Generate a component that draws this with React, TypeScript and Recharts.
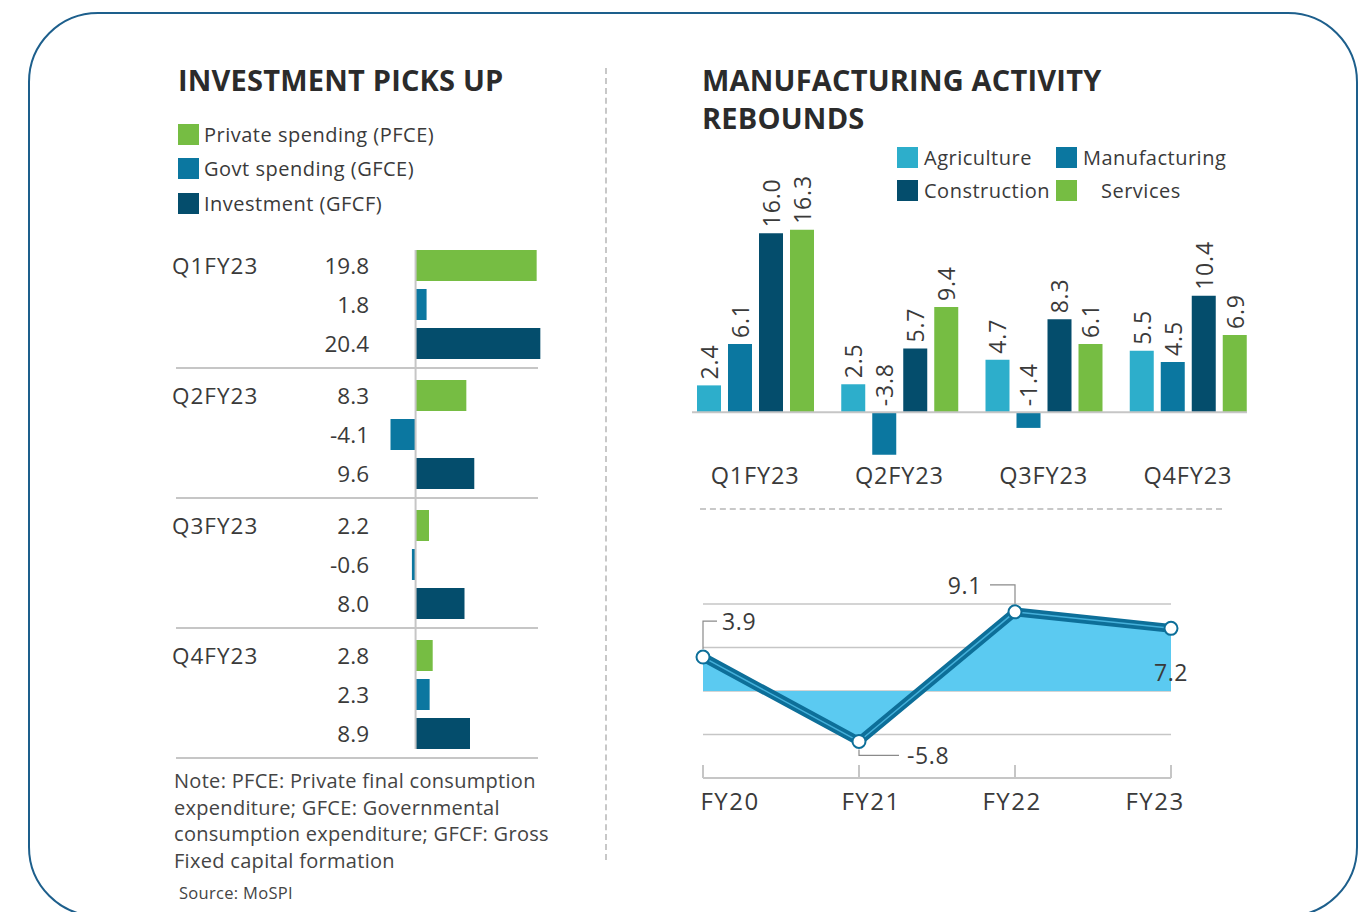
import React from 'react'
import {
  BarChart, Bar, XAxis, YAxis, Cell, ReferenceLine, LabelList,
  ComposedChart, Area, Line, CartesianGrid,
} from 'recharts'

const FONT = '"Open Sans", "Noto Sans", sans-serif'
const TEXT = '#3a3a3a'
const GREEN = '#76bd43'
const TEAL = '#0b77a0'
const NAVY = '#044d6c'
const SKY = '#2daecb'
const AREA_FILL = '#5bcaf1'
const LINE_BLUE = '#0d6f99'
const GRID = '#c6c6c6'

// left panel: demand components, % growth
const QUARTERS = ['Q1FY23', 'Q2FY23', 'Q3FY23', 'Q4FY23']
const SPEND_SERIES = ['Private spending (PFCE)', 'Govt spending (GFCE)', 'Investment (GFCF)']
const SPEND_COLORS = [GREEN, TEAL, NAVY]
const PFCE = [19.8, 8.3, 2.2, 2.8]
const GFCE = [1.8, -4.1, -0.6, 2.3]
const GFCF = [20.4, 9.6, 8.0, 8.9]

// right panel: sector growth by quarter
const SECTORS = ['Agriculture', 'Manufacturing', 'Construction', 'Services']
const SECTOR_COLORS = [SKY, TEAL, NAVY, GREEN]
const AGRICULTURE = [2.4, 2.5, 4.7, 5.5]
const MANUFACTURING = [6.1, -3.8, -1.4, 4.5]
const CONSTRUCTION = [16.0, 5.7, 8.3, 10.4]
const SERVICES = [16.3, 9.4, 6.1, 6.9]

// right panel: manufacturing growth by year
const YEARS = ['FY20', 'FY21', 'FY22', 'FY23']
const MFG_GROWTH = [3.9, -5.8, 9.1, 7.2]
const CALLOUTS = ['upRight', 'downRight', 'upLeft', 'below']
const YEAR_LABEL_DX = [27, 12, -3, -16]

const spendSeries = [PFCE, GFCE, GFCF]
const sectorSeries = [AGRICULTURE, MANUFACTURING, CONSTRUCTION, SERVICES]

const sectorData = QUARTERS.map((q, i) => {
  const row: Record<string, string | number> = { q }
  SECTORS.forEach((s, si) => { row[s] = sectorSeries[si][i] })
  return row
})

const trendData = YEARS.map((year, i) => ({ year, v: MFG_GROWTH[i] }))

function box(p: any) {
  return p.viewBox && p.viewBox.width !== undefined ? p.viewBox : p
}

function SpendGroup({ qi }: { qi: number }) {
  const rows = spendSeries.map((vals, si) => ({ key: SPEND_SERIES[si], value: vals[qi], color: SPEND_COLORS[si] }))
  const last = qi === QUARTERS.length - 1

  const renderTick = (p: any) => {
    const row = rows[p.index]
    if (!row) return null
    return (
      <g fontFamily={FONT} fontSize={22.5} fill={TEXT}>
        {p.index === 0 && (
          <text x={p.x - 197} y={p.y} dominantBaseline="central" fill={TEXT} letterSpacing={1}>{QUARTERS[qi]}</text>
        )}
        <text x={p.x} y={p.y} textAnchor="end" dominantBaseline="central" fill={TEXT}>{row.value.toFixed(1)}</text>
      </g>
    )
  }

  // zero line runs through the separator down into the next group
  const zeroLine = (p: any) => (
    <line
      x1={p.x1} x2={p.x2}
      y1={Math.min(p.y1, p.y2) + (qi === 0 ? 4 : 0)} y2={Math.max(p.y1, p.y2) + (last ? -4 : 13)}
      stroke={GRID} strokeWidth={2}
    />
  )

  return (
    <div style={{ position: 'absolute', left: 166, top: 246 + qi * 130, width: 380, height: 130 }}>
      <BarChart width={380} height={130} data={rows} layout="vertical"
        margin={{ top: 0, right: 2, bottom: 13, left: 0 }}>
        <XAxis type="number" domain={[-5, 21]} hide />
        <YAxis type="category" dataKey="key" width={219} axisLine={false} tickLine={false}
          tickSize={0} tickMargin={16} tick={renderTick} interval={0} />
        <ReferenceLine x={0} shape={zeroLine} />
        <Bar dataKey="value" barSize={31} isAnimationActive={false}>
          {rows.map(r => <Cell key={r.key} fill={r.color} />)}
        </Bar>
      </BarChart>
      <div style={{ position: 'absolute', left: 10, top: 121, width: 362, height: 2, background: GRID }} />
    </div>
  )
}

function RotatedValue(p: any) {
  const b = box(p)
  const top = Math.min(b.y, b.y + b.height)
  const cx = b.x + b.width / 2
  const ay = top - 6
  return (
    <text x={cx} y={ay} transform={`rotate(-90 ${cx} ${ay})`} textAnchor="start"
      dominantBaseline="central" fill={TEXT} fontSize={23} letterSpacing={0.8} fontFamily={FONT}>
      {Number(p.value).toFixed(1)}
    </text>
  )
}

function QuarterTick(p: any) {
  return (
    <text x={p.x} y={p.y + 18} textAnchor="middle" dominantBaseline="central"
      fill={TEXT} fontSize={23.5} letterSpacing={0.8} fontFamily={FONT}>{p.payload.value}</text>
  )
}

function YearTick(p: any) {
  const dx = YEAR_LABEL_DX[p.index] ?? 0
  return (
    <g>
      <line x1={p.x} x2={p.x} y1={p.y - 13} y2={p.y} stroke={GRID} strokeWidth={2} />
      <text x={p.x + dx} y={p.y + 22} textAnchor="middle" dominantBaseline="central"
        fill={TEXT} fontSize={24} letterSpacing={1.5} fontFamily={FONT}>{p.payload.value}</text>
    </g>
  )
}

function Callout(p: any) {
  const b = box(p)
  const x = b.x, y = b.y
  const kind = CALLOUTS[p.index]
  const label = Number(p.value).toFixed(1)
  const t = { fill: TEXT, fontSize: 23, letterSpacing: 0.6, fontFamily: FONT, dominantBaseline: 'central' as const }
  const lead = { stroke: '#8a8a8a', strokeWidth: 1.2, fill: 'none' }
  if (kind === 'upRight') {
    return (
      <g>
        <polyline points={`${x},${y - 8} ${x},${y - 36} ${x + 14},${y - 36}`} {...lead} />
        <text x={x + 19} y={y - 36} {...t}>{label}</text>
      </g>
    )
  }
  if (kind === 'downRight') {
    return (
      <g>
        <polyline points={`${x},${y + 8} ${x},${y + 14} ${x + 40},${y + 14}`} {...lead} />
        <text x={x + 48} y={y + 14} {...t}>{label}</text>
      </g>
    )
  }
  if (kind === 'upLeft') {
    return (
      <g>
        <polyline points={`${x},${y - 8} ${x},${y - 27} ${x - 25},${y - 27}`} {...lead} />
        <text x={x - 33} y={y - 27} textAnchor="end" {...t}>{label}</text>
      </g>
    )
  }
  return <text x={x} y={y + 44} textAnchor="middle" {...t}>{label}</text>
}

const title: React.CSSProperties = {
  position: 'absolute', fontWeight: 700, fontSize: 29, letterSpacing: 0.2, color: '#2b2b2b',
  lineHeight: '38px', whiteSpace: 'nowrap',
}
const legendText: React.CSSProperties = { fontSize: 20, letterSpacing: 0.5, color: TEXT, whiteSpace: 'nowrap' }

function Swatch({ color }: { color: string }) {
  return <span style={{ display: 'inline-block', width: 21, height: 21, background: color, flex: 'none' }} />
}

export default function App() {
  return (
    <div style={{
      position: 'fixed', left: 0, top: 0, width: 1361, height: 912, overflow: 'hidden',
      background: '#fff', fontFamily: FONT, color: TEXT,
    }}>
      <div style={{
        position: 'absolute', left: 28, top: 12, width: 1330, height: 905,
        border: '2px solid #1d5f8c', borderRadius: 70, boxSizing: 'border-box',
      }} />

      {/* dividers */}
      <div style={{ position: 'absolute', left: 605, top: 68, height: 792, borderLeft: '2px dashed #c8c8c8' }} />
      <div style={{ position: 'absolute', left: 700, top: 508, width: 522, borderTop: '2px dashed #c8c8c8' }} />

      {/* left panel */}
      <div style={{ ...title, left: 178, top: 61 }}>INVESTMENT PICKS UP</div>
      <div style={{ position: 'absolute', left: 178, top: 117 }}>
        {SPEND_SERIES.map((s, i) => (
          <div key={s} style={{ display: 'flex', alignItems: 'center', height: 34.5 }}>
            <Swatch color={SPEND_COLORS[i]} />
            <span style={{ ...legendText, marginLeft: 5 }}>{s}</span>
          </div>
        ))}
      </div>
      {QUARTERS.map((q, qi) => <SpendGroup key={q} qi={qi} />)}
      <div style={{
        position: 'absolute', left: 174, top: 768, fontSize: 20, letterSpacing: 0.3,
        lineHeight: '26.5px', color: '#444', whiteSpace: 'nowrap',
      }}>
        Note: PFCE: Private final consumption<br />
        expenditure; GFCE: Governmental<br />
        consumption expenditure; GFCF: Gross<br />
        Fixed capital formation
      </div>
      <div style={{ position: 'absolute', left: 179, top: 881, fontSize: 16.5, letterSpacing: 0.3, color: '#444' }}>
        Source: MoSPI
      </div>

      {/* right panel */}
      <div style={{ ...title, left: 702, top: 61 }}>MANUFACTURING ACTIVITY<br />REBOUNDS</div>
      <div style={{
        position: 'absolute', left: 897, top: 147, display: 'grid',
        gridTemplateColumns: '159px auto', rowGap: 12,
      }}>
        {SECTORS.map((s, i) => (
          <div key={s} style={{ display: 'flex', alignItems: 'center', height: 21 }}>
            <Swatch color={SECTOR_COLORS[i]} />
            <span style={{ ...legendText, marginLeft: i === 3 ? 24 : 6 }}>{s}</span>
          </div>
        ))}
      </div>

      <div style={{ position: 'absolute', left: 640, top: 140 }}>
        <BarChart width={640} height={360} data={sectorData}
          margin={{ top: 82, right: 20, left: 43, bottom: 3 }} barGap={7}>
          <XAxis dataKey="q" axisLine={false} tickLine={false} tickSize={0} tickMargin={0}
            height={40} tick={QuarterTick} interval={0} />
          <YAxis type="number" domain={[-4, 17]} hide />
          <ReferenceLine y={0} shape={(p: any) => (
            <line x1={Math.min(p.x1, p.x2) + 9} x2={Math.max(p.x1, p.x2) - 13} y1={p.y1} y2={p.y2}
              stroke={GRID} strokeWidth={2} />
          )} />
          {SECTORS.map((s, i) => (
            <Bar key={s} dataKey={s} fill={SECTOR_COLORS[i]} barSize={24} isAnimationActive={false}>
              <LabelList dataKey={s} content={RotatedValue} />
            </Bar>
          ))}
        </BarChart>
      </div>

      <div style={{ position: 'absolute', left: 660, top: 560 }}>
        <ComposedChart width={540} height={260} data={trendData}
          margin={{ top: 44, right: 29, left: 43, bottom: 0 }}>
          <CartesianGrid vertical={false} horizontalValues={[-5, 0, 5, 10]} stroke={GRID} strokeWidth={1.5} />
          <XAxis dataKey="year" scale="point" padding={{ left: 0, right: 0 }} height={42}
            axisLine={{ stroke: GRID, strokeWidth: 2 }} tickLine={false} tickSize={0} tickMargin={0}
            tick={YearTick} interval={0} />
          <YAxis type="number" domain={[-10, 10]} ticks={[-10, -5, 0, 5, 10]} hide />
          <Area type="linear" dataKey="v" baseValue={0} stroke="none" fill={AREA_FILL} fillOpacity={1}
            isAnimationActive={false} />
          <Line type="linear" dataKey="v" stroke={LINE_BLUE} strokeWidth={9} dot={false} activeDot={false}
            isAnimationActive={false} />
          <Line type="linear" dataKey="v" stroke="#45b0da" strokeWidth={1.5} activeDot={false}
            dot={{ r: 6.5, fill: '#fff', stroke: LINE_BLUE, strokeWidth: 2 }} isAnimationActive={false}>
            <LabelList dataKey="v" content={Callout} />
          </Line>
        </ComposedChart>
      </div>
    </div>
  )
}
